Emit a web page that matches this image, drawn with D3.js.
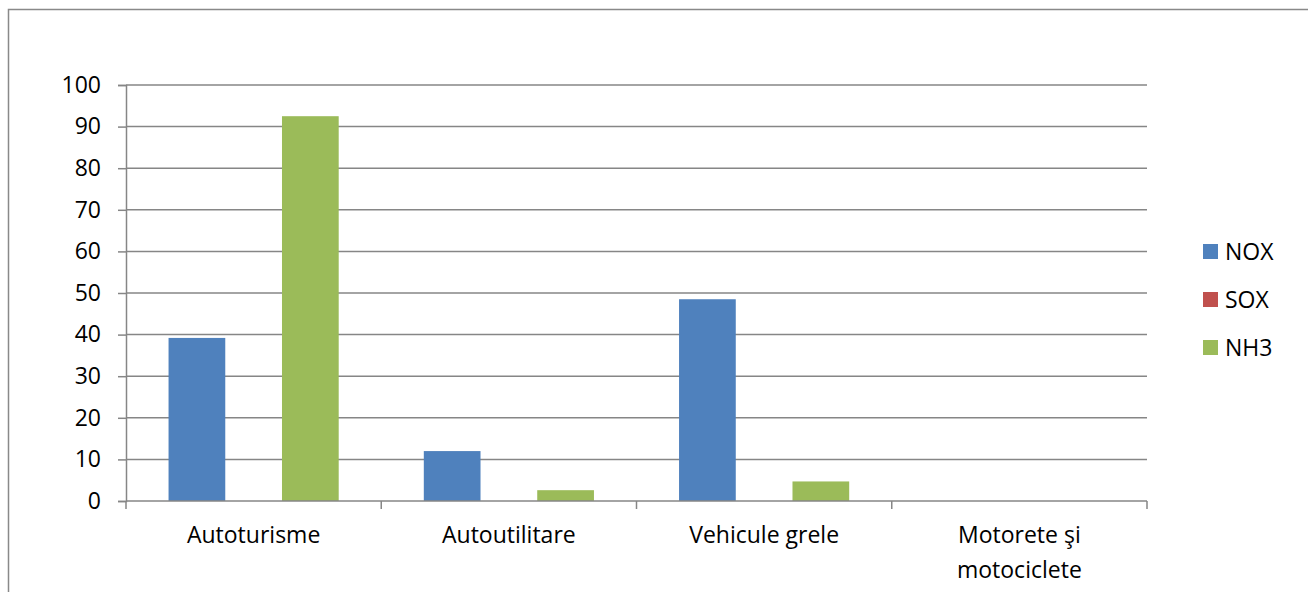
<!DOCTYPE html>
<html>
<head>
<meta charset="utf-8">
<script src="https://cdn.jsdelivr.net/npm/d3@7"></script>
<style>
  html, body { margin: 0; padding: 0; background: #fff; }
  svg { display: block; }
  text { font-family: "Open Sans", sans-serif; fill: #000; }
</style>
</head>
<body>
<div id="chart"></div>
<script>
const categories = ["Autoturisme", "Autoutilitare", "Vehicule grele", "Motorete şi motociclete"];
const seriesNames = ["NOX", "SOX", "NH3"];
const NOX = [39.2, 12.0, 48.5, 0];
const SOX = [0, 0, 0, 0];
const NH3 = [92.5, 2.6, 4.7, 0];
const yTicks = [0, 10, 20, 30, 40, 50, 60, 70, 80, 90, 100];
const colors = ["#4F81BD", "#C0504D", "#9BBB59"];

const seriesValues = [NOX, SOX, NH3];
const W = 1308, H = 592;
const plot = { left: 126, right: 1147, top: 85, bottom: 501 };
const FONT = "23px";

const svg = d3.select("#chart").append("svg").attr("width", W).attr("height", H);

// outer border
svg.append("rect").attr("x", 8.5).attr("y", 9.5).attr("width", W + 10).attr("height", H + 10)
  .attr("fill", "none").attr("stroke", "#898989").attr("stroke-width", 1.5);

const y = d3.scaleLinear().domain([0, 100]).range([plot.bottom, plot.top]);
const x0 = d3.scaleBand().domain(categories).range([plot.left, plot.right]).padding(0);
const bw = x0.bandwidth();
const gap = bw * 0.1667;
const x1 = d3.scaleBand().domain(seriesNames).range([gap, bw - gap]).padding(0);

// gridlines
svg.append("g").selectAll("line").data(yTicks.filter(d => d > 0)).join("line")
  .attr("x1", plot.left).attr("x2", plot.right)
  .attr("y1", d => y(d)).attr("y2", d => y(d))
  .attr("stroke", "#868686").attr("stroke-width", 1.5);

// bars
const groups = svg.append("g").selectAll("g").data(categories).join("g")
  .attr("transform", d => `translate(${x0(d)},0)`);
groups.selectAll("rect").data((c, i) => seriesNames.map((s, j) => ({ s, j, v: seriesValues[j][i] })))
  .join("rect")
  .attr("x", d => x1(d.s)).attr("width", x1.bandwidth())
  .attr("y", d => y(d.v)).attr("height", d => y(0) - y(d.v))
  .attr("fill", d => colors[d.j]);

// y axis
const yAxis = d3.axisLeft(y).tickValues(yTicks).tickSize(8).tickPadding(17);
const gy = svg.append("g").attr("transform", `translate(${plot.left},0)`).call(yAxis);
gy.select(".domain").attr("stroke", "#868686").attr("stroke-width", 1.5);
gy.selectAll(".tick line").attr("stroke", "#868686").attr("stroke-width", 1.5);
gy.selectAll(".tick text").style("font-size", FONT).style("font-family", "'Open Sans', sans-serif").attr("fill", "#000");

// x axis line + boundary ticks
const boundaries = categories.map(c => x0(c)).concat([plot.right]);
svg.append("line").attr("x1", plot.left).attr("x2", plot.right).attr("y1", plot.bottom).attr("y2", plot.bottom)
  .attr("stroke", "#868686").attr("stroke-width", 1.5);
svg.append("g").selectAll("line").data(boundaries).join("line")
  .attr("x1", d => d).attr("x2", d => d).attr("y1", plot.bottom).attr("y2", plot.bottom + 8)
  .attr("stroke", "#868686").attr("stroke-width", 1.5);

// category labels
const labelLines = { "Motorete şi motociclete": ["Motorete şi", "motociclete"] };
categories.forEach(c => {
  const lines = labelLines[c] || [c];
  const t = svg.append("text").attr("x", x0(c) + bw / 2).attr("y", 543)
    .attr("text-anchor", "middle").style("font-size", FONT);
  lines.forEach((l, i) => t.append("tspan").attr("x", x0(c) + bw / 2).attr("dy", i === 0 ? 0 : 34.5).text(l));
});

// legend
const leg = svg.append("g").attr("transform", "translate(1203,244)");
seriesNames.forEach((s, i) => {
  leg.append("rect").attr("x", 0).attr("y", i * 48).attr("width", 15).attr("height", 15).attr("fill", colors[i]);
  leg.append("text").attr("x", 22).attr("y", i * 48 + 15.5).style("font-size", FONT).text(s);
});
</script>
</body>
</html>
